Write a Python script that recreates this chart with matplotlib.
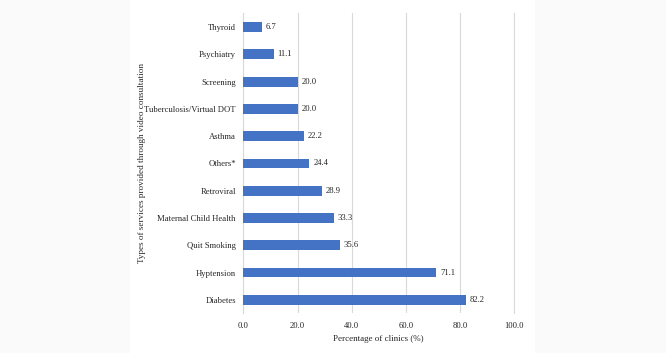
import matplotlib.pyplot as plt
from matplotlib.patches import Rectangle

services = ['Diabetes', 'Hyptension', 'Quit Smoking', 'Maternal Child Health',
            'Retroviral', 'Others*', 'Asthma', 'Tuberculosis/Virtual DOT',
            'Screening', 'Psychiatry', 'Thyroid']
percent = [82.2, 71.1, 35.6, 33.3, 28.9, 24.4, 22.2, 20.0, 20.0, 11.1, 6.7]
xticks = [0, 20, 40, 60, 80, 100]

plt.rcParams['font.family'] = ['Liberation Serif', 'DejaVu Serif']
fs = 6.2

fig = plt.figure(figsize=(6.66, 3.53), dpi=100, facecolor='#fafafa')
# white panel behind the chart
fig.patches.append(Rectangle((0.195, 0), 0.608, 1, transform=fig.transFigure,
                             facecolor='white', edgecolor='none', zorder=-10))

ax = fig.add_axes([0.3656, 0.112, 0.406, 0.850])
ax.set_facecolor('white')
ax.set_zorder(5)

ypos = range(len(services))
bars = ax.barh(ypos, percent, height=0.36, color='#4472C4', zorder=3)
for y, v in zip(ypos, percent):
    ax.annotate(f'{v:.1f}', (v, y), xytext=(3, 0), textcoords='offset points',
                va='center', ha='left', fontsize=fs, color='#262626')

ax.set_yticks(list(ypos))
ax.set_yticklabels(services, fontsize=fs, color='#262626')
ax.set_ylim(-0.5, len(services) - 0.5)
ax.set_xlim(0, 100)
ax.set_xticks(xticks)
ax.set_xticklabels([f'{t:.1f}' for t in xticks], fontsize=fs, color='#262626')
ax.tick_params(length=0, pad=6)
ax.tick_params(axis='y', pad=5.5)
ax.grid(axis='x', color='#d9d9d9', linewidth=0.8, zorder=0)

for s in ['top', 'bottom']:
    ax.spines[s].set_visible(False)
for s in ['left', 'right']:
    ax.spines[s].set_color('#d9d9d9')
    ax.spines[s].set_linewidth(0.8)

ax.set_xlabel('Percentage of clinics (%)', fontsize=6.5, color='#262626', labelpad=4)
ax.set_ylabel('Types of services provided through video consultation',
              fontsize=6.6, color='#262626', labelpad=-1)

fig.savefig('out.png', dpi=100, facecolor=fig.get_facecolor())
